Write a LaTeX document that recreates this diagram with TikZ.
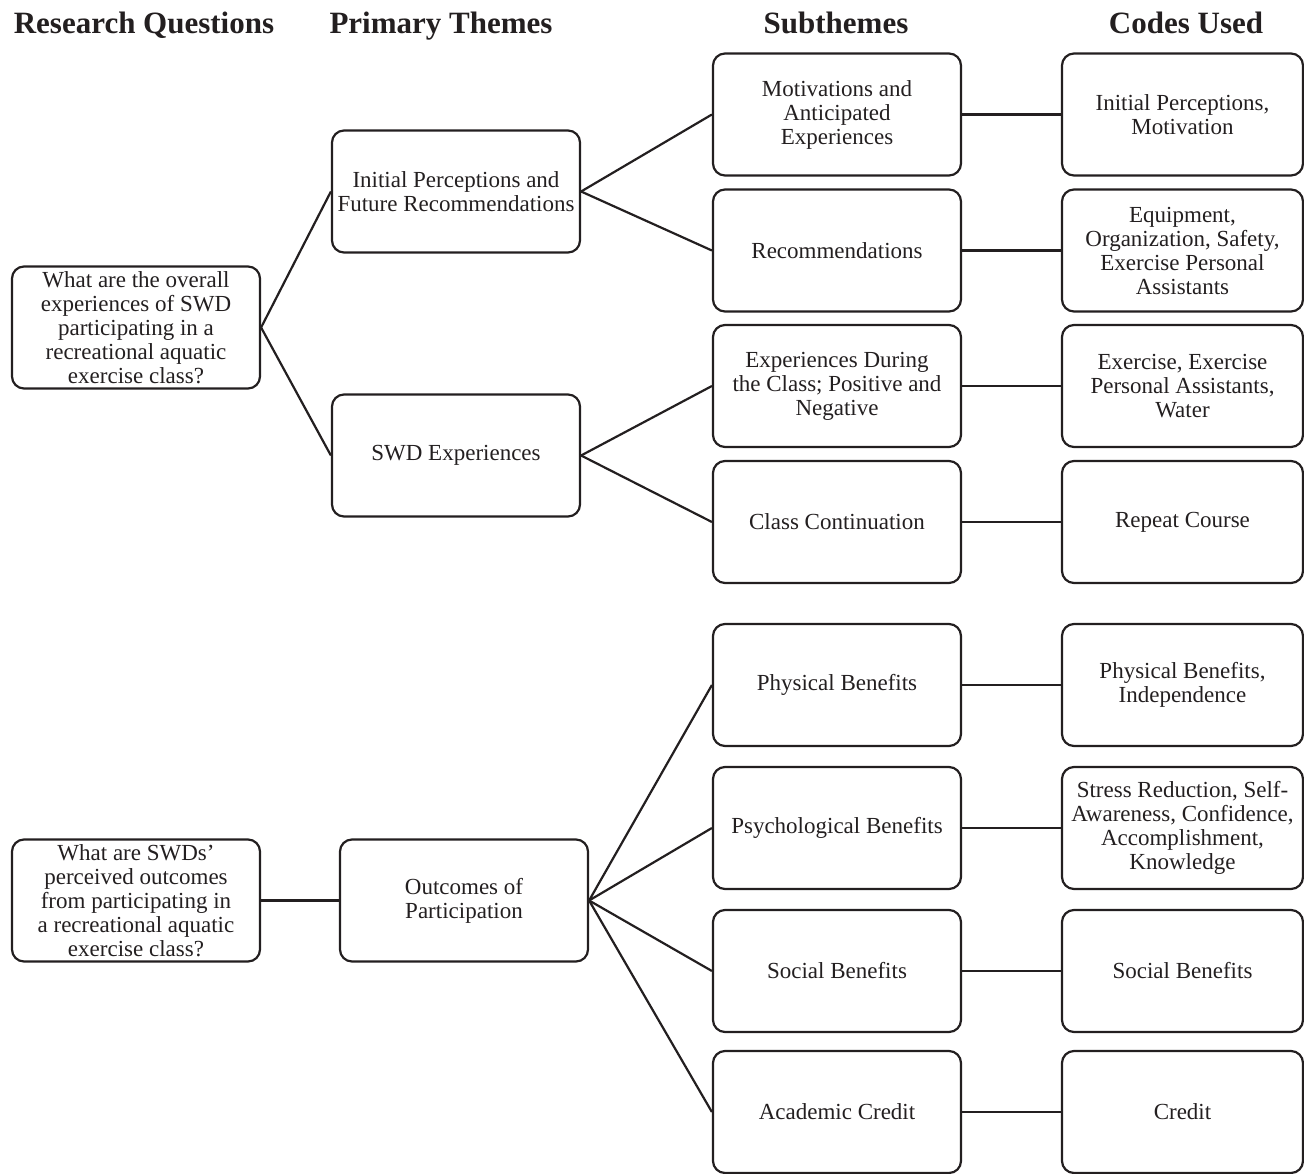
\documentclass[tikz,border=0pt]{standalone}
\usepackage{fontspec}
\setmainfont{Liberation Serif}
\definecolor{ink}{HTML}{231F20}
\begin{document}
\begin{tikzpicture}[x=1pt,y=-1pt,
  box/.style={draw=ink, line width=2.2pt, rounded corners=12pt, minimum width=248pt, minimum height=122pt, align=center, font=\fontsize{23}{24}\selectfont, inner sep=0pt, text=ink},
  codebox/.style={box, minimum width=241pt},
  head/.style={font=\bfseries\fontsize{31}{32}\selectfont, text=ink, inner sep=0pt, anchor=base},
  link/.style={draw=ink, line width=2.2pt}]
\useasboundingbox (0,0) rectangle (1304,1174);
% headers
\node[head] (h1) at (144,34) {Research Questions};
\node[head] (h2) at (441,34) {Primary Themes};
\node[head] (h3) at (836,34) {Subthemes};
\node[head] (h4) at (1186,34) {Codes Used};
% research questions
\node[box] (rq1) at (136,327.5) {What are the overall\\experiences of SWD\\participating in a\\recreational aquatic\\exercise class?};
\node[box] (rq2) at (136,900.5) {What are SWDs'\\perceived outcomes\\from participating in\\a recreational aquatic\\exercise class?};
% primary themes
\node[box] (pt1) at (456,191.5) {Initial Perceptions and\\Future Recommendations};
\node[box] (pt2) at (456,455.5) {SWD Experiences};
\node[box] (pt3) at (464,900.5) {Outcomes of\\Participation};
% subthemes
\node[box] (s1) at (837,114.5) {Motivations and\\Anticipated\\Experiences};
\node[box] (s2) at (837,250.5) {Recommendations};
\node[box] (s3) at (837,386) {Experiences During\\the Class; Positive and\\Negative};
\node[box] (s4) at (837,522) {Class Continuation};
\node[box] (s5) at (837,685) {Physical Benefits};
\node[box] (s6) at (837,828) {Psychological Benefits};
\node[box] (s7) at (837,971) {Social Benefits};
\node[box] (s8) at (837,1112) {Academic Credit};
% codes
\node[codebox] (c1) at (1182.5,114.5) {Initial Perceptions,\\Motivation};
\node[codebox] (c2) at (1182.5,250.5) {Equipment,\\Organization, Safety,\\Exercise Personal\\Assistants};
\node[codebox] (c3) at (1182.5,386) {Exercise, Exercise\\Personal Assistants,\\Water};
\node[codebox] (c4) at (1182.5,522) {Repeat Course};
\node[codebox] (c5) at (1182.5,685) {Physical Benefits,\\Independence};
\node[codebox] (c6) at (1182.5,828) {Stress Reduction, Self-\\Awareness, Confidence,\\Accomplishment,\\Knowledge};
\node[codebox] (c7) at (1182.5,971) {Social Benefits};
\node[codebox] (c8) at (1182.5,1112) {Credit};
% connectors
\draw[link] (rq1.east) -- (pt1.west);
\draw[link] (rq1.east) -- (pt2.west);
\draw[link] (rq2.east) -- (pt3.west);
\draw[link] (pt1.east) -- (s1.west);
\draw[link] (pt1.east) -- (s2.west);
\draw[link] (pt2.east) -- (s3.west);
\draw[link] (pt2.east) -- (s4.west);
\draw[link] (pt3.east) -- (s5.west);
\draw[link] (pt3.east) -- (s6.west);
\draw[link] (pt3.east) -- (s7.west);
\draw[link] (pt3.east) -- (s8.west);
\foreach \i in {1,...,8} {\draw[link] (s\i.east) -- (c\i.west);}
\end{tikzpicture}
\end{document}
